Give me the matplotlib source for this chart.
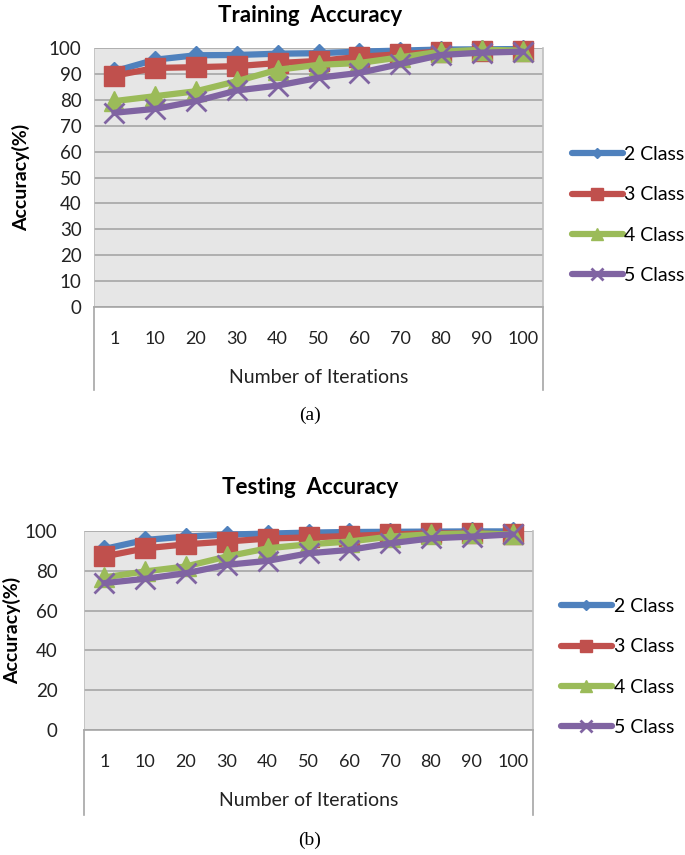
import matplotlib
matplotlib.use('Agg')
import matplotlib.pyplot as plt

plt.rcParams['font.family'] = ['Lato', 'DejaVu Sans']

# data
iterations = ['1', '10', '20', '30', '40', '50', '60', '70', '80', '90', '100']
labels = ['2 Class', '3 Class', '4 Class', '5 Class']

train_2 = [91, 95.5, 97.2, 97.3, 97.8, 98, 98.6, 99, 99.4, 99.5, 99.6]
train_3 = [89.3, 92.3, 92.6, 93, 94.2, 95, 96.6, 97.6, 98.6, 98.9, 98.7]
train_4 = [79.5, 81.4, 83.3, 87.2, 91.6, 93.5, 94.2, 96.4, 98.6, 99.3, 99]
train_5 = [75, 76.5, 79.5, 83.6, 85.5, 88.5, 90.4, 93.8, 97.3, 98.2, 98.6]

test_2 = [91, 95.5, 97.2, 98.2, 98.7, 99.2, 99.5, 99.6, 99.7, 99.8, 99.8]
test_3 = [87.2, 91.3, 93.3, 94.7, 96.2, 96.8, 97.5, 98.3, 98.8, 98.8, 98.3]
test_4 = [76.7, 79.7, 82.2, 87.2, 91.3, 93.3, 94.7, 97.2, 98.3, 98.8, 98.3]
test_5 = [73.8, 76, 78.8, 83, 85, 88.8, 90.5, 93.8, 96.3, 97.2, 98.3]

colors = ['#4F81BD', '#C0504D', '#9BBB59', '#8064A2']
markers = ['D', 's', '^', 'x']
msizes = [9, 15, 14, 14]

W, H = 685, 855
fig = plt.figure(figsize=(W / 100, H / 100), dpi=100)


def px(l, t, r, b):
    return [l / W, 1 - b / H, (r - l) / W, (b - t) / H]


def draw(ax, series, title, yticks, box_px, ypad, title_y, ylab_x, leg_x, leg_y):
    ax.set_facecolor('#E6E6E6')
    x = range(len(iterations))
    handles = []
    for s, c, m, ms, lab in zip(series, colors, markers, msizes, labels):
        mew = 2 if m == 'x' else 1
        h, = ax.plot(x, s, color=c, lw=4.5, marker=m, markersize=ms,
                     markeredgewidth=mew, markeredgecolor=c, label=lab,
                     solid_capstyle='round', clip_on=False, zorder=3)
        handles.append(h)
    ax.set_xlim(-0.5, len(iterations) - 0.5)
    ax.set_ylim(0, 100)
    ax.set_yticks(yticks)
    ax.yaxis.grid(True, color='#A6A6A6', lw=1.2)
    ax.set_axisbelow(True)
    for sp in ['top', 'left']:
        ax.spines[sp].set_visible(False)
    ax.spines['right'].set_color('#BFBFBF')
    ax.spines['bottom'].set_color('#A6A6A6')
    ax.spines['right'].set_linewidth(1.2)
    ax.spines['bottom'].set_linewidth(1.2)
    ax.set_xticks(list(x))
    ax.set_xticklabels(iterations, fontsize=13, color='#222222')
    ax.tick_params(axis='x', length=0, pad=17)
    ax.tick_params(axis='y', length=0, pad=ypad, labelsize=13.5, labelcolor='#222222')
    ax.set_xlabel('Number of Iterations', fontsize=14, labelpad=16, color='#222222')
    ax.set_ylabel('Accuracy(%)', fontsize=14, fontweight='bold')
    l = ax.get_position().x0 * W
    ax.yaxis.set_label_coords((ylab_x - l) / ax.bbox.width, 0.5)
    # title placed at a fixed pixel height
    fig.text(310 / W, 1 - title_y / H, title, ha='center', va='center',
             fontsize=16, fontweight='bold')
    # white category box under the plot area
    for xx in (0, 1):
        ax.plot([xx, xx], [0, -box_px / ax.bbox.height], transform=ax.transAxes,
                color='#A6A6A6', lw=1.2, clip_on=False)
    ax.plot([0, 0], [0, 1], transform=ax.transAxes, color='#BFBFBF', lw=1.2)
    fig.legend(handles=handles, loc='upper left', bbox_to_anchor=(leg_x / W, 1 - leg_y / H),
               frameon=False, fontsize=14, handlelength=2.6, handletextpad=0.1,
               labelspacing=1.2, markerscale=0.6, borderaxespad=0, borderpad=0)


ax1 = fig.add_axes(px(94, 48, 543, 307))
draw(ax1, [train_2, train_3, train_4, train_5], 'Training  Accuracy',
     range(0, 101, 10), 83, 9, 15, 30, 572, 146)

ax2 = fig.add_axes(px(84, 531, 533, 730))
draw(ax2, [test_2, test_3, test_4, test_5], 'Testing  Accuracy',
     range(0, 101, 20), 85, 19, 487, 21, 561, 598)

fig.text(310 / W, 1 - 415 / H, '(a)', ha='center', va='center',
         fontsize=14, family='Liberation Serif')
fig.text(310 / W, 1 - 840 / H, '(b)', ha='center', va='center',
         fontsize=14, family='Liberation Serif')

fig.savefig('out.png', dpi=100)
